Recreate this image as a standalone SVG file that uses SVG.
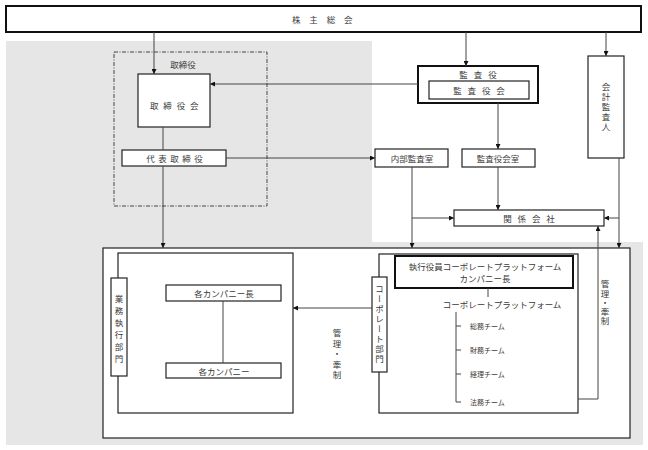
<svg xmlns="http://www.w3.org/2000/svg" width="648" height="450" viewBox="0 0 648 450">
<style>
text{font-family:"Noto Sans CJK JP","Noto Sans CJK SC",sans-serif;fill:#3a3a3a;font-size:8.5px;text-anchor:middle;dominant-baseline:central}
.b{fill:#fff;stroke:#222;stroke-width:1.2}
.bt{fill:#fff;stroke:#111;stroke-width:2}
.c{fill:none;stroke:#444;stroke-width:1}
.ca{fill:none;stroke:#444;stroke-width:1;marker-end:url(#ah)}
.v{writing-mode:vertical-rl;text-orientation:upright}
.sm{font-size:7px;text-anchor:start}
</style>
<defs>
<marker id="ah" viewBox="0 0 6 6" refX="6" refY="3" markerWidth="5" markerHeight="5" markerUnits="userSpaceOnUse" orient="auto">
<path d="M0,0 L6,3 L0,6 Z" fill="#111"/>
</marker>
</defs>
<rect width="648" height="450" fill="#fff"/>
<path d="M6,41 H372 V242 H643 V445 H6 Z" fill="#e6e6e6"/>
<rect x="103" y="248" width="527" height="190" fill="#fff" stroke="#222" stroke-width="1.2"/>

<g id="shareholders">
<rect class="bt" x="6" y="6" width="635" height="26"/>
<text x="324" y="19" letter-spacing="3.5">株 主 総 会</text>
</g>

<g id="directors">
<rect x="114" y="52" width="153" height="154" fill="none" stroke="#444" stroke-width="1" stroke-dasharray="4,1.5,1,1.5"/>
<text x="183" y="64">取締役</text>
</g>

<g id="board">
<rect class="b" x="138" y="74" width="72" height="53"/>
<text x="175" y="105" letter-spacing="1.5">取 締 役 会</text>
</g>

<g id="representative">
<rect class="b" x="122" y="150" width="104" height="16"/>
<text x="175" y="158" letter-spacing="0.8">代 表 取 締 役</text>
</g>

<g id="auditors">
<rect class="bt" x="418" y="66" width="120" height="37"/>
<text x="479" y="74" letter-spacing="2">監 査 役</text>
<rect class="b" x="429" y="81" width="100" height="18"/>
<text x="480" y="90" letter-spacing="2">監 査 役 会</text>
</g>

<g id="accounting-auditor">
<rect class="b" x="588" y="56" width="36" height="102"/>
<text class="v" x="606" y="108" letter-spacing="1.5">会計監査人</text>
</g>

<g id="internal-audit">
<rect class="b" x="375" y="149" width="73" height="18"/>
<text x="412" y="158">内部監査室</text>
</g>

<g id="audit-office">
<rect class="b" x="462" y="149" width="73" height="18"/>
<text x="498" y="158">監査役会室</text>
</g>

<g id="affiliates">
<rect class="b" x="454" y="210" width="150" height="16"/>
<text x="530" y="218" letter-spacing="2">関 係 会 社</text>
</g>

<g id="business-division">
<rect x="118" y="253" width="175" height="160" fill="#fff" stroke="#222" stroke-width="1.2"/>
<rect class="b" x="111" y="278" width="16" height="98"/>
<text class="v" x="119" y="331" letter-spacing="3.5">業務執行部門</text>
</g>

<g id="company-head">
<rect class="b" x="166" y="285" width="115" height="16"/>
<text x="224" y="293">各カンパニー長</text>
</g>

<g id="company">
<rect class="b" x="166" y="363" width="115" height="15"/>
<text x="224" y="370.5">各カンパニー</text>
</g>

<text class="v" x="337" y="355" letter-spacing="2">管理・牽制</text>
<text class="v" x="605" y="303" letter-spacing="0.8">管理・牽制</text>

<g id="corporate-division">
<rect x="379" y="254" width="199" height="159" fill="#fff" stroke="#222" stroke-width="1.2"/>
<rect class="b" x="372" y="277" width="15" height="95"/>
<text class="v" x="379.5" y="325" letter-spacing="1.5">コーポレート部門</text>
</g>

<g id="executive">
<rect class="bt" x="395" y="256" width="178" height="32"/>
<text x="485" y="266">執行役員コーポレートプラットフォーム</text>
<text x="485" y="278">カンパニー長</text>
</g>

<g id="platform">
<text x="502" y="304">コーポレートプラットフォーム</text>
</g>

<g id="teams">
<text class="sm" x="470" y="326">総務チーム</text>
<text class="sm" x="470" y="350">財務チーム</text>
<text class="sm" x="470" y="374">経理チーム</text>
<text class="sm" x="470" y="402">法務チーム</text>
</g>

<g id="connectors">
<path class="ca" d="M154,32 V74"/>
<path class="ca" d="M466,32 V66"/>
<path class="ca" d="M606,32 V56"/>
<path class="ca" d="M418,84 H210"/>
<path class="c" d="M163,127 V150"/>
<path class="ca" d="M163,166 V248"/>
<path class="ca" d="M226,158 H375"/>
<path class="ca" d="M498,103 V149"/>
<path class="ca" d="M498,167 V210"/>
<path class="ca" d="M412,167 V248"/>
<path class="ca" d="M412,218 H454"/>
<path class="ca" d="M619,158 V248"/>
<path class="ca" d="M619,218 H604"/>
<path class="ca" d="M578,399 H598 V226"/>
<path class="ca" d="M372,308 H293"/>
<path class="c" d="M223,301 V363"/>
<path class="c" d="M488,288 V297"/>
<path class="c" d="M456,312 V402 M456,326 H461 M456,350 H461 M456,374 H461 M456,402 H461"/>
</g>
</svg>
